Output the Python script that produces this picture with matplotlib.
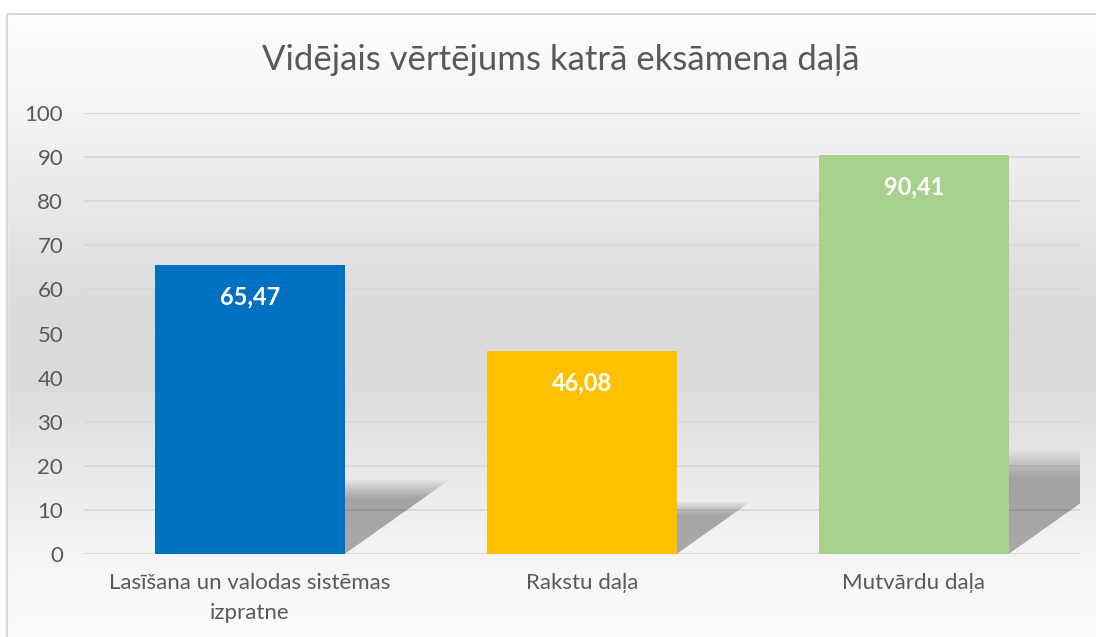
import numpy as np
import matplotlib.pyplot as plt
from matplotlib.patches import Polygon, Rectangle

plt.rcParams['font.family'] = ['Lato', 'DejaVu Sans']

title = 'Vidējais vērtējums katrā eksāmena daļā'
categories = ['Lasīšana un valodas sistēmas\nizpratne', 'Rakstu daļa', 'Mutvārdu daļa']
values = [65.47, 46.08, 90.41]
labels = ['65,47', '46,08', '90,41']
colors = ['#0070C0', '#FFC000', '#A9D18E']

W, H = 1096, 637
fig = plt.figure(figsize=(W / 100, H / 100), dpi=100)

# background gradient inside the chart frame
bg = fig.add_axes([0, 0, 1, 1], zorder=0)
bg.set_axis_off()
yy = np.linspace(0, 1, 400)  # 0 = top, 1 = bottom
shade = np.interp(yy, [0, 0.03, 0.2, 0.5, 0.6, 0.85, 1.0],
                  [1.0, 0.995, 0.95, 0.855, 0.86, 0.955, 0.99])
img = np.repeat(shade[:, None], 2, axis=1)
bg.imshow(np.dstack([img, img, img]), aspect='auto', extent=[0, 1, 0, 1],
          interpolation='bilinear')
bg.add_patch(Rectangle((0, 0), 7 / W, 1, color='white', zorder=2))
bg.add_patch(Rectangle((0, 1 - 14 / H), 1, 14 / H, color='white', zorder=2))
bg.plot([7 / W, 7 / W, 1], [0, 1 - 14 / H, 1 - 14 / H], color='#d9d9d9', lw=1.5, zorder=3)
bg.set_xlim(0, 1)
bg.set_ylim(0, 1)

ax = fig.add_axes([84 / W, 1 - 554 / H, (1080 - 84) / W, (554 - 113) / H], zorder=1)
ax.patch.set_alpha(0)
x = np.arange(len(values))
w = 0.57

# soft perspective shadows behind bars
for xi, v in zip(x, values):
    for s in np.linspace(0.8, 1.08, 14):
        dx = v * 0.0045 * s
        hs = v * 0.24 * s
        poly = Polygon([(xi - w / 2, 0), (xi + w / 2, 0), (xi + w / 2 + dx, hs),
                        (xi - w / 2 + dx, hs)], closed=True, facecolor='black',
                       edgecolor='none', alpha=0.022, zorder=1)
        ax.add_patch(poly)

ax.bar(x, values, width=w, color=colors, zorder=3)

for xi, v, lab in zip(x, values, labels):
    ax.annotate(lab, (xi, v), xytext=(0, -23), textcoords='offset points',
                ha='center', va='center', color='white', fontsize=17,
                fontweight='bold', zorder=4)

ax.set_xlim(-0.5, 2.5)
ax.set_ylim(0, 100)
ax.set_yticks(np.arange(0, 101, 10))
ax.set_xticks(x)
ax.set_xticklabels(categories, linespacing=1.6)
ax.yaxis.grid(True, color='#d9d9d9', lw=1.5, zorder=0)
ax.set_axisbelow(True)
for sp in ax.spines.values():
    sp.set_visible(False)
ax.tick_params(length=0, colors='#595959', labelsize=16)
ax.tick_params(axis='y', pad=15)
ax.tick_params(axis='x', pad=14)

fig.text(0.512, 1 - 60 / H, title, ha='center', va='center', fontsize=25,
         color='#595959')

fig.savefig('out.png', dpi=100)
